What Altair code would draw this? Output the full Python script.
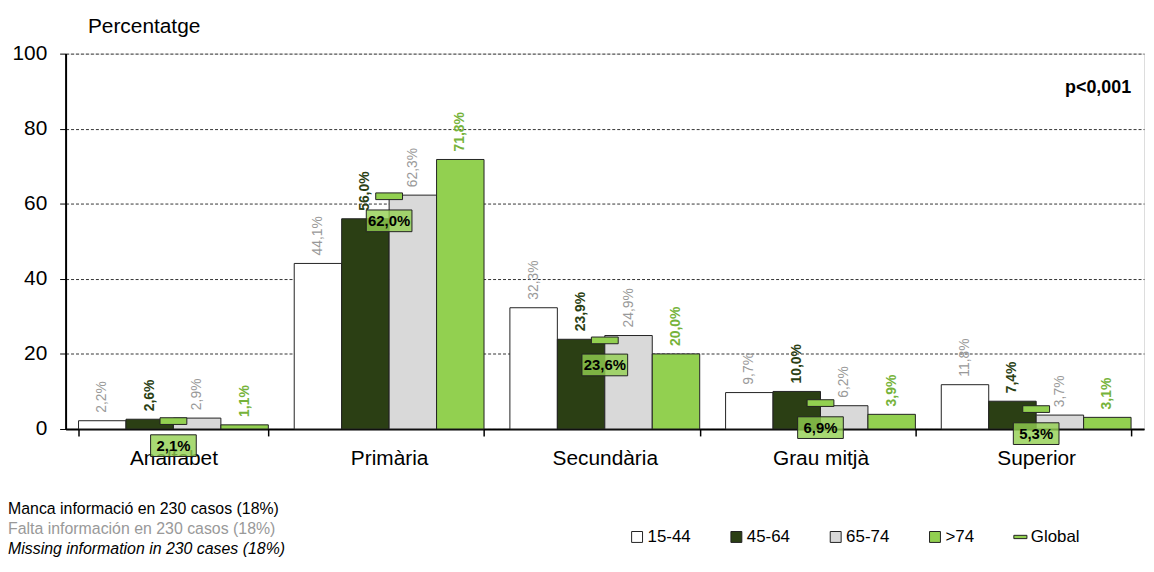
import altair as alt
import pandas as pd

FONT = "Liberation Sans"

categories = ["Analfabet", "Primària", "Secundària", "Grau mitjà", "Superior"]
groups = ["15-44", "45-64", "65-74", ">74"]
v_15_44 = [2.2, 44.1, 32.3, 9.7, 11.8]
v_45_64 = [2.6, 56.0, 23.9, 10.0, 7.4]
v_65_74 = [2.9, 62.3, 24.9, 6.2, 3.7]
v_gt74 = [1.1, 71.8, 20.0, 3.9, 3.1]
global_vals = [2.1, 62.0, 23.6, 6.9, 5.3]
y_ticks = [0, 20, 40, 60, 80, 100]
notes = [
    "Manca informació en 230 casos (18%)",
    "Falta información  en 230 casos (18%)",
    "Missing information in 230 cases (18%)",
]
p_text = "p<0,001"

rows = []
for i, c in enumerate(categories):
    for g, vals in zip(groups, [v_15_44, v_45_64, v_65_74, v_gt74]):
        rows.append({"cat": c, "group": g, "value": vals[i]})
bars_df = pd.DataFrame(rows)
glob_df = pd.DataFrame({"cat": categories, "group": ["Global"] * len(categories), "value": global_vals})

legend_groups = groups + ["Global"]
fill_colors = ["#ffffff", "#2b3f14", "#d9d9d9", "#92d050", "#92d050"]
GLOBAL_SHAPE = "M-1.2,-0.3H1.2V0.3H-1.2Z"
shapes = ["square", "square", "square", "square", GLOBAL_SHAPE]

label_expr = "replace(format(datum.value, '.1f'), '.', ',') + '%'"


def make_legend():
    return alt.Legend(
        title=None, orient="none", legendX=567, legendY=478, direction="horizontal",
        columns=5, columnPadding=37, symbolSize=121, labelFontSize=17, labelFont=FONT,
        labelColor="#000", labelOffset=2, padding=0,
        symbolStrokeColor="#222", symbolStrokeWidth=1,
    )


x_scale = alt.Scale(domain=categories, paddingInner=0.12, paddingOuter=0.06)
xoff_scale = alt.Scale(domain=groups, paddingInner=0, paddingOuter=0)
y_scale = alt.Scale(domain=[0, 100], nice=False)
fill_scale = alt.Scale(domain=legend_groups, range=fill_colors)
shape_scale = alt.Scale(domain=legend_groups, range=shapes)

x_enc = alt.X(
    "cat:N", sort=categories, scale=x_scale,
    axis=alt.Axis(
        title=None, labelAngle=0, labelFontSize=21, labelFont=FONT, labelColor="#000",
        labelPadding=12, tickBand="extent", tickSize=7, tickColor="#000", tickWidth=1.5,
        domainColor="#000", domainWidth=2, grid=False,
    ),
)
x_plain = alt.X("cat:N", sort=categories, scale=x_scale)
y_enc = alt.Y(
    "value:Q", scale=y_scale,
    axis=alt.Axis(
        values=y_ticks, title="Percentatge", titleAngle=0, titleAlign="left",
        titleBaseline="middle", titleX=22, titleY=-27, titleFontSize=21,
        titleFontWeight="normal", titleFont=FONT, titleColor="#000",
        labelFontSize=21, labelFont=FONT, labelColor="#000", labelPadding=13,
        tickSize=6, tickColor="#000", domainColor="#000", domainWidth=2,
        gridDash=[3, 2], gridColor="#333", gridWidth=1,
    ),
)
y_plain = alt.Y("value:Q", scale=y_scale)
xoff = alt.XOffset("group:N", sort=groups, scale=xoff_scale)

base = alt.Chart(bars_df).transform_calculate(label=label_expr)

bars = base.mark_bar(stroke="#222", strokeWidth=1).encode(
    x=x_enc, y=y_enc, xOffset=xoff,
    fill=alt.Fill("group:N", scale=fill_scale, legend=make_legend()),
)

label_styles = [
    ("15-44", "#999999", "normal"),
    ("45-64", "#2b3f14", "bold"),
    ("65-74", "#999999", "normal"),
    (">74", "#76b33a", "bold"),
]
text_layers = []
for g, col, w in label_styles:
    text_layers.append(
        base.transform_filter(alt.datum.group == g).mark_text(
            angle=270, align="left", baseline="middle", dx=8, fontSize=14,
            font=FONT, fontWeight=w, color=col,
        ).encode(x=x_plain, y=y_plain, xOffset=xoff, text="label:N")
    )

gbase = alt.Chart(glob_df).transform_calculate(label=label_expr)
marker = gbase.mark_point(
    filled=True, size=506, stroke="#222", strokeWidth=1, opacity=1,
).encode(
    x=x_plain, y=y_plain,
    fill=alt.Fill("group:N", scale=fill_scale, legend=make_legend()),
    shape=alt.Shape("group:N", scale=shape_scale, legend=make_legend()),
)
box = gbase.mark_point(
    shape="M-1,0.6H1V1.55H-1Z", filled=True, size=2116, fill="#92d050",
    fillOpacity=0.8, stroke="#222", strokeWidth=1, opacity=1,
).encode(x=x_plain, y=y_plain)
box_text = gbase.mark_text(
    dy=25, fontSize=15, fontWeight="bold", font=FONT, color="#000",
    baseline="middle", align="center",
).encode(x=x_plain, y=y_plain, text="label:N")

note_styles = [("#000000", "normal", 459), ("#999999", "normal", 479), ("#000000", "italic", 499)]
note_layers = []
for t, (col, style, yy) in zip(notes, note_styles):
    note_layers.append(
        alt.Chart(pd.DataFrame({"t": [t]})).mark_text(
            align="left", baseline="middle", fontSize=16, font=FONT, color=col, fontStyle=style,
        ).encode(x=alt.value(-58), y=alt.value(yy), text="t:N")
    )

p_layer = alt.Chart(pd.DataFrame({"t": [p_text]})).mark_text(
    align="right", baseline="middle", fontSize=18, fontWeight="bold", font=FONT, color="#000",
).encode(x=alt.value(1073), y=alt.value(35), text="t:N")

chart = alt.layer(
    bars, *text_layers, marker, box, box_text, *note_layers, p_layer
).properties(
    width=1086, height=378,
    padding={"left": 58, "top": 44, "right": 2, "bottom": 130},
    autosize=alt.AutoSizeParams(type="none"),
).configure_view(stroke=None).configure(font=FONT)

chart.save("out.html", embed_options={"renderer": "svg", "actions": False})
